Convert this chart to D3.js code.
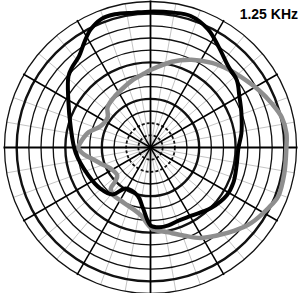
<!DOCTYPE html>
<html>
<head>
<meta charset="utf-8">
<script src="https://cdn.jsdelivr.net/npm/d3@7"></script>
<style>
  html, body { margin: 0; padding: 0; background: #fff; }
  svg { display: block; }
</style>
</head>
<body>
<div id="chart"></div>
<script>
// polar response, angles clockwise from top (deg), levels in dB
const title = '1.25 KHz';
const ringLevels = [-33, -30, -27, -24, -21, -18, -15, -12, -9, -6, -3, 0];
const thickRings = [-24, -15, -3];
const dashedRings = [-33, -30];
const spokeAngles = d3.range(0, 360, 10);

const blackAngles = [0, 9, 17, 26, 34, 44, 52, 60, 69, 81, 90, 102, 113, 122, 135, 149, 159, 167, 174, 180,
  187, 195, 211, 219, 231, 246, 266, 285, 300, 311, 316, 322, 328, 333, 339, 345, 353];
const blackLevels = [-2.5, -2.3, -2.1, -3.6, -6.0, -8.3, -9.0, -10.7, -12.0, -13.3, -14.3, -14.3, -13.8, -13.8, -14.9, -16.4, -16.7, -16.3, -16.2, -16.8,
  -20.9, -23.7, -24.2, -21.1, -20.0, -19.2, -17.5, -15.6, -12.6, -9.2, -8.3, -7.4, -5.3, -3.4, -2.1, -2.0, -2.5];

const greyAngles = [0, 14, 25, 36, 45, 52, 62, 70, 77, 84, 90, 101, 111, 117, 127, 135, 142, 151, 159, 168, 179,
  188, 198, 210, 218, 224, 226, 230, 242, 252, 260, 265, 270, 274, 283, 293, 305, 313, 324, 336, 346, 355];
const greyLevels = [-16.9, -14.2, -12.1, -10.2, -8.8, -7.7, -5.8, -4.2, -2.8, -2.3, -2.5, -2.4, -2.3, -3.3, -5.0, -6.9, -8.6, -10.5, -12.7, -14.6, -16.0,
  -19.1, -20.4, -21.0, -21.1, -21.9, -23.8, -25.3, -24.9, -23.1, -21.0, -19.2, -18.2, -18.7, -20.1, -22.6, -23.1, -21.5, -20.7, -19.8, -18.7, -17.7];

const width = 303, height = 293;
const cx = 150.5, cy = 147.5, R = 146;

const svg = d3.select('#chart').append('svg')
    .attr('width', width)
    .attr('height', height);

const g = svg.append('g').attr('transform', 'translate(' + cx + ',' + cy + ')');

const rScale = d3.scaleLinear().domain([-36, 0]).range([0, R]);
const rad = d => d * Math.PI / 180;

// light spokes every 10 deg
g.selectAll('.spoke-light')
    .data(spokeAngles.filter(a => a % 30 !== 0))
    .enter().append('line')
    .attr('class', 'spoke-light')
    .attr('x1', 0).attr('y1', 0)
    .attr('x2', a => R * Math.sin(rad(a)))
    .attr('y2', a => -R * Math.cos(rad(a)))
    .attr('stroke', '#c4c4c4')
    .attr('stroke-width', 1);

// rings
g.selectAll('.ring')
    .data(ringLevels)
    .enter().append('circle')
    .attr('class', 'ring')
    .attr('r', d => rScale(d))
    .attr('fill', 'none')
    .attr('stroke', '#111')
    .attr('stroke-width', d => thickRings.includes(d) ? 2.4 : (dashedRings.includes(d) ? 1.8 : 1.3))
    .attr('stroke-dasharray', d => dashedRings.includes(d) ? '3,2' : null);

// dark spokes every 30 deg
g.selectAll('.spoke')
    .data(spokeAngles.filter(a => a % 30 === 0))
    .enter().append('line')
    .attr('class', 'spoke')
    .attr('x1', 0).attr('y1', 0)
    .attr('x2', a => (R + 1) * Math.sin(rad(a)))
    .attr('y2', a => -(R + 1) * Math.cos(rad(a)))
    .attr('stroke', '#000')
    .attr('stroke-width', a => a % 90 === 0 ? 1.8 : 1.5);

const line = d3.lineRadial()
    .angle(d => rad(d[0]))
    .radius(d => rScale(d[1]))
    .curve(d3.curveCatmullRomClosed.alpha(0.5));

const series = [
    {angles: greyAngles, levels: greyLevels, color: '#8e8e8e', w: 4.5},
    {angles: blackAngles, levels: blackLevels, color: '#000', w: 4}
];

g.selectAll('.trace')
    .data(series)
    .enter().append('path')
    .attr('class', 'trace')
    .attr('d', s => line(s.angles.map((a, i) => [a, s.levels[i]])))
    .attr('fill', 'none')
    .attr('stroke', s => s.color)
    .attr('stroke-width', s => s.w)
    .attr('stroke-linejoin', 'round');

// title
svg.append('text')
    .attr('x', 298)
    .attr('y', 19)
    .attr('text-anchor', 'end')
    .attr('font-family', 'Liberation Sans, Arial, sans-serif')
    .attr('font-weight', 'bold')
    .attr('font-size', '14px')
    .attr('fill', '#000')
    .text(title);
</script>
</body>
</html>
